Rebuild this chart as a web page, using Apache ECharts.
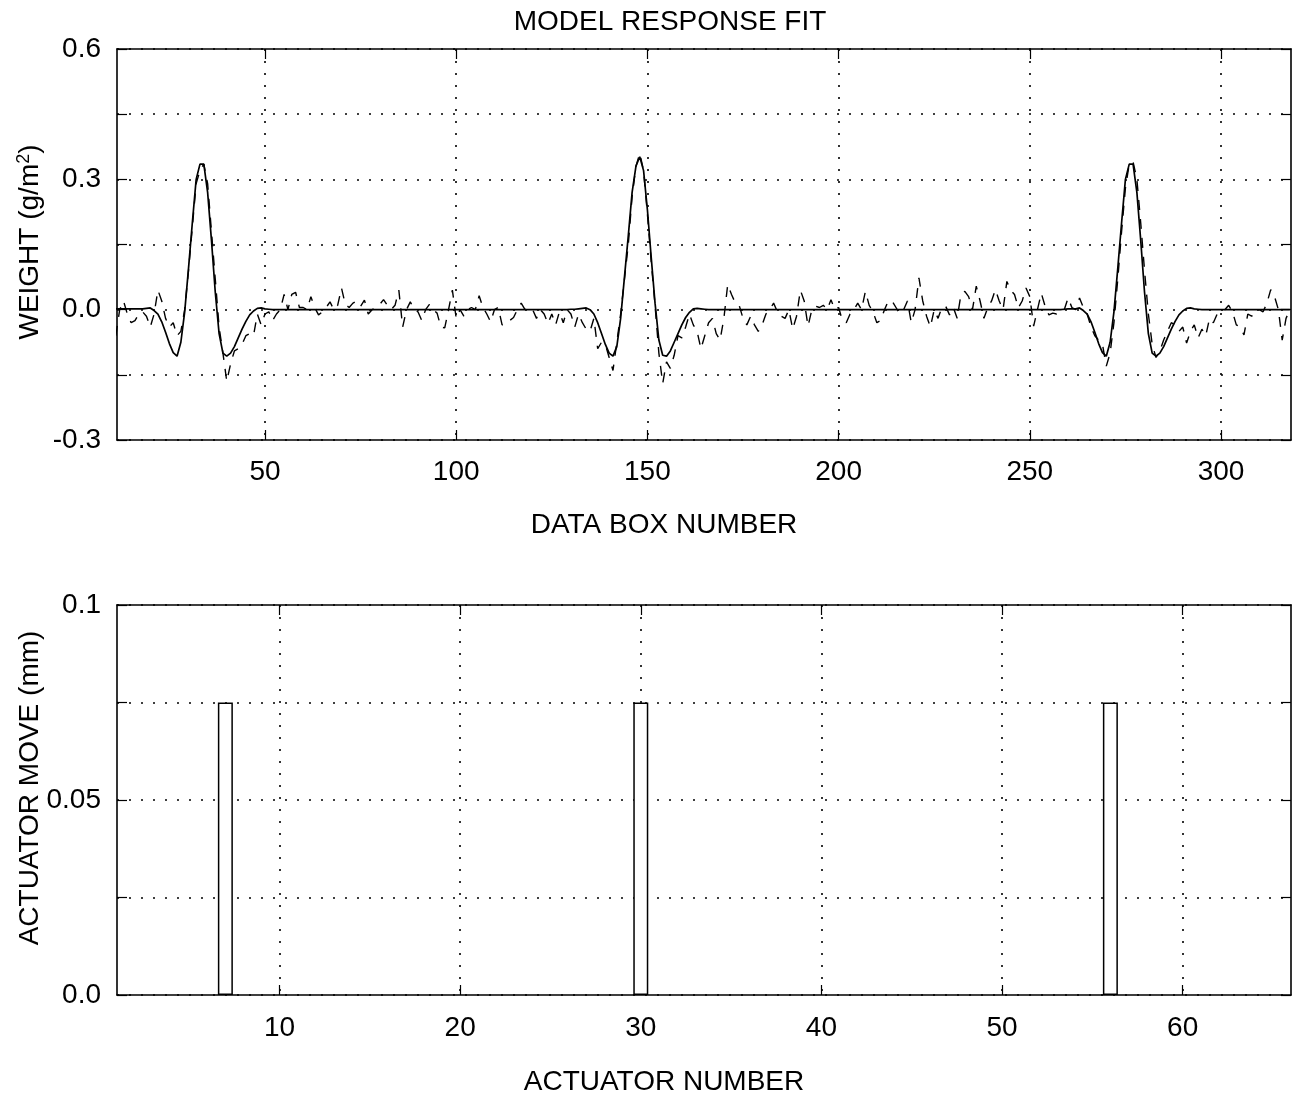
<!DOCTYPE html>
<html>
<head>
<meta charset="utf-8">
<script src="https://cdn.jsdelivr.net/npm/echarts@6/dist/echarts.min.js"></script>
<style>
html,body{margin:0;padding:0;background:#fff;}
#chart{width:1296px;height:1099px;}
</style>
</head>
<body>
<div id="chart"></div>
<script>
// ---------- DATA ----------
const FIRST_BOX = 11; // data box number of the first value
// measured response (dashed), boxes 11..318
const measured = [
  -0.06, 0.0, 0.02, -0.01, -0.03, -0.025, -0.01, -0.005, -0.015, -0.04,      // 11-20
  -0.01, 0.045, 0.02, -0.02, -0.04, -0.03, -0.06, -0.05, 0.0, 0.09,         // 21-30
  0.19, 0.29, 0.32, 0.335, 0.29, 0.18, 0.07, -0.04, -0.1, -0.165,           // 31-40
  -0.125, -0.095, -0.09, -0.08, -0.06, -0.055, -0.06, -0.01, -0.035, -0.01, // 41-50
  -0.005, -0.025, -0.01, 0.0, 0.035, 0.0, 0.035, 0.04, 0.005, 0.005,        // 51-60
  0.0, 0.03, 0.005, -0.012, -0.005, 0.005, 0.018, 0.0, 0.01, 0.05,          // 61-70
  0.012, 0.005, 0.015, 0.02, 0.008, 0.022, -0.01, 0.0, 0.005, 0.012,        // 71-80
  0.023, 0.01, 0.0, 0.01, 0.045, -0.04, 0.0, 0.018, 0.0, -0.005,            // 81-90
  -0.025, 0.0, 0.012, 0.0, -0.008, -0.04, -0.042, 0.0, 0.045, -0.02,        // 91-100
  0.0, -0.015, 0.0, 0.005, 0.0, 0.032, 0.005, -0.01, -0.028, 0.0,           // 101-110
  0.005, -0.035, -0.033, -0.025, -0.018, 0.0, 0.015, 0.0, 0.005, 0.0,       // 111-120
  -0.02, 0.0, -0.01, -0.032, -0.01, -0.035, -0.005, -0.03, 0.0, -0.01,      // 121-130
  -0.04, -0.01, -0.03, -0.045, -0.05, -0.02, -0.09, -0.075, -0.08, -0.11,   // 131-140
  -0.14, -0.075, -0.01, 0.07, 0.15, 0.26, 0.33, 0.36, 0.32, 0.22,           // 141-150
  0.11, 0.01, -0.1, -0.17, -0.12, -0.135, -0.105, -0.06, -0.065, -0.04,     // 151-160
  -0.01, -0.035, -0.05, -0.09, -0.06, -0.03, -0.02, -0.055, -0.07, -0.02,   // 161-170
  0.058, 0.035, 0.015, 0.01, -0.02, -0.035, -0.015, -0.035, -0.05, -0.035,  // 171-180
  -0.01, 0.0, 0.015, -0.005, -0.015, -0.02, 0.0, -0.045, -0.015, 0.045,     // 181-190
  0.02, -0.038, 0.0, 0.008, 0.005, 0.01, 0.0, 0.023, 0.0, 0.005,            // 191-200
  -0.025, -0.03, -0.01, 0.0, 0.015, 0.0, 0.042, 0.01, -0.005, -0.03,        // 201-210
  -0.025, 0.0, 0.02, 0.02, 0.005, -0.01, 0.0, 0.02, -0.03, 0.0,             // 211-220
  0.073, 0.02, -0.015, -0.04, 0.0, -0.02, 0.005, 0.008, -0.012, 0.005,      // 221-230
  -0.02, 0.035, 0.042, 0.03, 0.0, 0.054, 0.02, -0.02, 0.005, 0.02,          // 231-240
  0.046, 0.02, 0.0, 0.065, 0.045, 0.035, 0.004, 0.02, 0.05, 0.03,           // 241-250
  -0.038, 0.0, 0.038, 0.008, -0.012, -0.008, -0.01, 0.0, 0.0, 0.027,        // 251-260
  0.005, 0.0, 0.027, 0.005, -0.01, -0.04, -0.06, -0.07, -0.08, -0.13,       // 261-270
  -0.1, -0.03, 0.07, 0.18, 0.28, 0.335, 0.34, 0.3, 0.2, 0.09,               // 271-280
  -0.01, -0.08, -0.11, -0.095, -0.07, -0.05, -0.03, -0.035, -0.05, -0.04,   // 281-290
  -0.077, -0.05, -0.035, -0.065, -0.045, -0.06, -0.02, -0.03, -0.01, -0.005,// 291-300
  0.0, 0.01, -0.005, -0.035, -0.04, -0.058, -0.01, -0.015, -0.01, 0.0,      // 301-310
  -0.005, 0.015, 0.046, 0.03, 0.0, -0.07, -0.02, 0.0                        // 311-318
];
// model response fit (solid), boxes 11..318
const model = [
  0.002, 0.002, 0.002, 0.002, 0.002, 0.002, 0.002, 0.002, 0.003, 0.004,      // 11-20
  -0.002, -0.01, -0.028, -0.052, -0.078, -0.099, -0.107, -0.075, -0.005, 0.095, // 21-30
  0.2, 0.3, 0.335, 0.335, 0.27, 0.16, 0.04, -0.055, -0.1, -0.107,           // 31-40
  -0.1, -0.085, -0.065, -0.045, -0.027, -0.012, -0.003, 0.003, 0.004, 0.002, // 41-50
  0.001, 0, 0, 0, 0, 0, 0, 0, 0, 0,                                          // 51-60
  0, 0, 0, 0, 0, 0, 0, 0, 0, 0,                                              // 61-70
  0, 0, 0, 0, 0, 0, 0, 0, 0, 0,                                              // 71-80
  0, 0, 0, 0, 0, 0, 0, 0, 0, 0,                                              // 81-90
  0, 0, 0, 0, 0, 0, 0, 0, 0, 0,                                              // 91-100
  0, 0, 0, 0, 0, 0, 0, 0, 0, 0,                                              // 101-110
  0, 0, 0, 0, 0, 0, 0, 0, 0, 0,                                              // 111-120
  0, 0, 0, 0, 0, 0, 0, 0, 0, 0.001,                                          // 121-130
  0.001, 0.002, 0.003, 0.004, 0.0, -0.01, -0.03, -0.055, -0.08, -0.1,       // 131-140
  -0.107, -0.085, -0.02, 0.075, 0.17, 0.27, 0.33, 0.352, 0.32, 0.23,        // 141-150
  0.12, 0.015, -0.07, -0.105, -0.107, -0.095, -0.075, -0.055, -0.035, -0.018, // 151-160
  -0.006, 0.002, 0.003, 0.002, 0.001, 0, 0, 0, 0, 0,                        // 161-170
  0, 0, 0, 0, 0, 0, 0, 0, 0, 0,                                              // 171-180
  0, 0, 0, 0, 0, 0, 0, 0, 0, 0,                                              // 181-190
  0, 0, 0, 0, 0, 0, 0, 0, 0, 0,                                              // 191-200
  0, 0, 0, 0, 0, 0, 0, 0, 0, 0,                                              // 201-210
  0, 0, 0, 0, 0, 0, 0, 0, 0, 0,                                              // 211-220
  0, 0, 0, 0, 0, 0, 0, 0, 0, 0,                                              // 221-230
  0, 0, 0, 0, 0, 0, 0, 0, 0, 0,                                              // 231-240
  0, 0, 0, 0, 0, 0, 0, 0, 0, 0,                                              // 241-250
  0, 0, 0, 0, 0, 0, 0, 0, 0.001, 0.002,                                      // 251-260
  0.002, 0.002, 0.004, -0.002, -0.01, -0.028, -0.052, -0.078, -0.099, -0.107, // 261-270
  -0.075, -0.005, 0.095, 0.2, 0.3, 0.335, 0.335, 0.27, 0.16, 0.04,          // 271-280
  -0.055, -0.1, -0.107, -0.1, -0.085, -0.065, -0.045, -0.027, -0.012, -0.003, // 281-290
  0.003, 0.004, 0.002, 0.001, 0, 0, 0, 0, 0, 0,                             // 291-300
  0, 0, 0, 0, 0, 0, 0, 0, 0, 0,                                              // 301-310
  0, 0, 0, 0, 0, 0, 0, 0                                                     // 311-318
];
const topXTicks = [50, 100, 150, 200, 250, 300];
const actuators = [7, 30, 56];
const actuatorMoves = [0.075, 0.075, 0.075];
const bottomXTicks = [10, 20, 30, 40, 50, 60];

const measuredPts = measured.map((v, i) => [FIRST_BOX + i, v]);
const modelPts = model.map((v, i) => [FIRST_BOX + i, v]);
const barPts = actuators.map((a, i) => [a, actuatorMoves[i]]);

// ---------- STYLE ----------
const FONT = 'Liberation Sans, Arial, sans-serif';
const FS = 28;
const dotted = { color: '#000', width: 1.6, type: [2, 10] };
const axLine = { show: true, lineStyle: { color: '#000', width: 1.6 } };
const tick = { show: true, inside: true, length: 10, lineStyle: { color: '#000', width: 1.2 } };

function xAx(grid, pos, min, max, ticks, labels, grid_on, margin) {
  return {
    type: 'value', gridIndex: grid, position: pos, min: min, max: max,
    axisLine: Object.assign({ onZero: false }, axLine),
    axisTick: Object.assign({ customValues: ticks }, tick),
    axisLabel: labels ? { show: true, customValues: ticks, margin: margin, color: '#000', fontFamily: FONT, fontSize: FS } : { show: false },
    splitLine: grid_on ? { show: true, customValues: ticks, lineStyle: dotted } : { show: false },
    minorTick: { show: false }
  };
}
function yAx(grid, pos, min, max, interval, labels, grid_on, fmt) {
  return {
    type: 'value', gridIndex: grid, position: pos, min: min, max: max, interval: interval,
    axisLine: Object.assign({ onZero: false }, axLine),
    axisTick: tick,
    axisLabel: labels ? { show: true, margin: 16, color: '#000', fontFamily: FONT, fontSize: FS, formatter: fmt } : { show: false },
    splitLine: grid_on ? { show: true, lineStyle: dotted } : { show: false }
  };
}
function fmtTop(v) {
  const r = Math.round(v * 100);
  if (r % 30 !== 0) return '';
  return (r / 100).toFixed(1);
}
function fmtBot(v) {
  const r = Math.round(v * 1000);
  if (r === 0) return '0.0';
  if (r === 50) return '0.05';
  if (r === 100) return '0.1';
  return '';
}

const chart = echarts.init(document.getElementById('chart'), null, { renderer: 'canvas' });
const option = {
  backgroundColor: '#fff',
  animation: false,
  textStyle: { fontFamily: FONT, color: '#000' },
  grid: [
    { left: 117, top: 49, width: 1174, height: 391 },
    { left: 117, top: 605, width: 1174, height: 390 }
  ],
  xAxis: [
    xAx(0, 'bottom', 11.3, 318.3, topXTicks, true, true, 18),
    xAx(0, 'top', 11.3, 318.3, topXTicks, false, false),
    xAx(1, 'bottom', 1, 66, bottomXTicks, true, true, 19),
    xAx(1, 'top', 1, 66, bottomXTicks, false, false)
  ],
  yAxis: [
    yAx(0, 'left', -0.3, 0.6, 0.15, true, true, fmtTop),
    yAx(0, 'right', -0.3, 0.6, 0.15, false, false),
    yAx(1, 'left', 0, 0.1, 0.025, true, true, fmtBot),
    yAx(1, 'right', 0, 0.1, 0.025, false, false)
  ],
  graphic: [
    { type: 'text', x: 670, y: 22, style: { text: 'MODEL RESPONSE FIT', font: FS + 'px ' + FONT, fill: '#000', align: 'center', verticalAlign: 'middle' } },
    { type: 'text', x: 664, y: 525, style: { text: 'DATA BOX NUMBER', font: FS + 'px ' + FONT, fill: '#000', align: 'center', verticalAlign: 'middle' } },
    { type: 'text', x: 664, y: 1082, style: { text: 'ACTUATOR NUMBER', font: FS + 'px ' + FONT, fill: '#000', align: 'center', verticalAlign: 'middle' } },
    { type: 'text', x: 30, y: 242, rotation: Math.PI / 2,
      style: { text: '{a|WEIGHT (g/m}{s|2}{a|)}', align: 'center', verticalAlign: 'middle',
        rich: { a: { fontFamily: FONT, fontSize: FS, fill: '#000', color: '#000' },
                s: { fontFamily: FONT, fontSize: 18, fill: '#000', color: '#000', verticalAlign: 'top', padding: [0, 0, 12, 0] } } } },
    { type: 'text', x: 30, y: 788, rotation: Math.PI / 2,
      style: { text: 'ACTUATOR MOVE (mm)', font: FS + 'px ' + FONT, fill: '#000', align: 'center', verticalAlign: 'middle' } }
  ],
  series: [
    { type: 'line', name: 'measured', xAxisIndex: 0, yAxisIndex: 0, data: measuredPts,
      showSymbol: false, symbol: 'none', clip: true,
      lineStyle: { color: '#000', width: 1.4, type: [10, 9] }, z: 3 },
    { type: 'line', name: 'model', xAxisIndex: 0, yAxisIndex: 0, data: modelPts,
      showSymbol: false, symbol: 'none', clip: true,
      lineStyle: { color: '#000', width: 1.7 }, z: 4 },
    { type: 'bar', name: 'move', xAxisIndex: 2, yAxisIndex: 2, data: barPts, barWidth: 15,
      itemStyle: { color: '#fff', borderColor: '#000', borderWidth: 1.5 }, z: 3 }
  ]
};
chart.setOption(option);
</script>
</body>
</html>
